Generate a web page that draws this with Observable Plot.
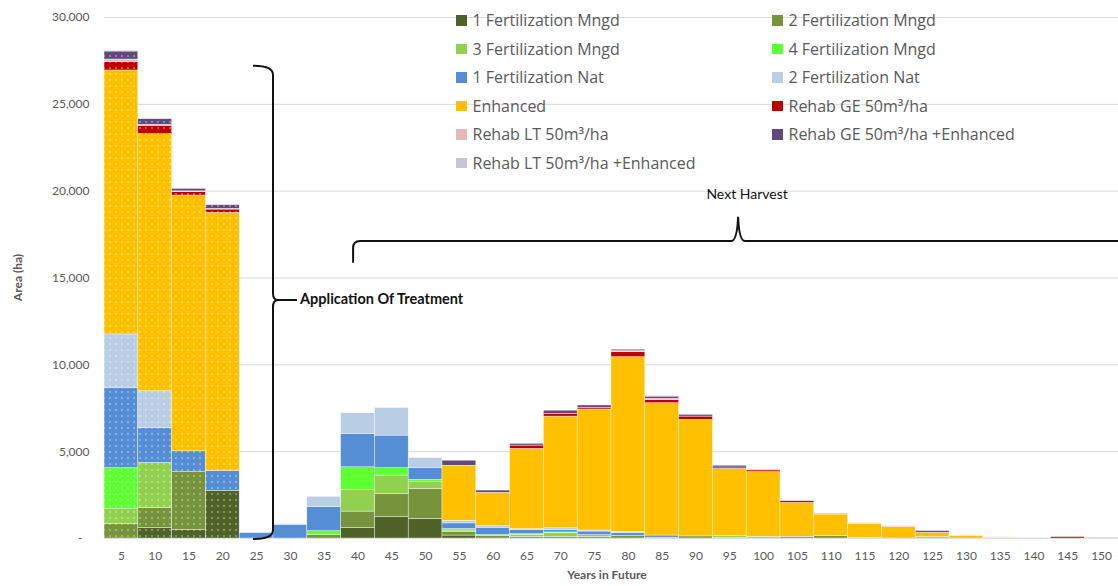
<!DOCTYPE html>
<html>
<head>
<meta charset="utf-8">
<script src="https://cdn.jsdelivr.net/npm/d3@7"></script>
<script src="https://cdn.jsdelivr.net/npm/@observablehq/plot@0.6"></script>
<style>
  html, body { margin: 0; padding: 0; background: #fff; }
  #wrap { position: relative; width: 1118px; height: 586px; overflow: hidden; font-family: Lato, "Open Sans", sans-serif; }
  #legend { position: absolute; left: 456px; top: 6px; display: grid; grid-template-columns: 316px 316px; grid-auto-rows: 28.5px; align-items: center; color: #595959; font-size: 16px; font-family: "Open Sans", Lato, sans-serif; }
  #legend .item { display: flex; align-items: center; white-space: nowrap; }
  #legend .sw { width: 10.5px; height: 10.5px; margin-right: 6px; flex: none; }
</style>
</head>
<body>
<svg width="0" height="0" style="position:absolute">
  <defs>
    <pattern id="dots" width="6" height="6" patternUnits="userSpaceOnUse">
      <circle cx="2" cy="2" r="0.75" fill="white" fill-opacity="0.75"></circle>
    </pattern>
  </defs>
</svg>
<div id="wrap">
  <div id="chart"></div>
  <div id="legend"></div>
</div>
<script>
// ---- data ----
const years = [5,10,15,20,25,30,35,40,45,50,55,60,65,70,75,80,85,90,95,100,105,110,115,120,125,130,135,140,145,150];

const seriesNames = [
  "1 Fertilization Mngd", "2 Fertilization Mngd", "3 Fertilization Mngd", "4 Fertilization Mngd",
  "1 Fertilization Nat", "2 Fertilization Nat", "Enhanced", "Rehab GE 50m³/ha",
  "Rehab LT 50m³/ha", "Rehab GE 50m³/ha +Enhanced", "Rehab LT 50m³/ha +Enhanced"
];
const seriesColors = ["#4F6228", "#77933C", "#92D050", "#5EFF33", "#558ED5", "#B9CDE5", "#FFC000", "#C00000", "#E6B9B8", "#604A7B", "#CCC1DA"];

const fert1Mngd = [0, 600, 480, 2750, 0, 0, 0, 610, 1230, 1130, 170, 0, 0, 0, 0, 0, 0, 0, 0, 0, 0, 0, 0, 0, 0, 0, 0, 0, 0, 0];
const fert2Mngd = [830, 1150, 3340, 0, 0, 0, 190, 940, 1340, 1730, 190, 150, 100, 100, 100, 150, 50, 120, 50, 0, 0, 150, 0, 0, 0, 0, 0, 0, 0, 0];
const fert3Mngd = [860, 2600, 0, 0, 0, 0, 0, 1250, 1055, 380, 100, 50, 100, 200, 100, 0, 0, 0, 80, 100, 0, 0, 0, 0, 80, 0, 0, 0, 0, 0];
const fert4Mngd = [2360, 0, 0, 0, 0, 0, 230, 1300, 420, 130, 80, 0, 50, 50, 0, 0, 0, 0, 0, 0, 0, 0, 0, 0, 0, 0, 0, 0, 0, 0];
const fert1Nat  = [4600, 2000, 1200, 1150, 310, 780, 1380, 1920, 1880, 690, 330, 420, 230, 130, 200, 150, 120, 0, 0, 0, 100, 0, 30, 0, 0, 0, 0, 0, 0, 0];
const fert2Nat  = [3100, 2130, 0, 0, 0, 50, 600, 1190, 1590, 575, 150, 100, 60, 120, 60, 80, 0, 0, 0, 0, 0, 0, 0, 0, 0, 0, 0, 0, 0, 0];
const enhanced  = [15200, 14800, 14730, 14850, 0, 0, 0, 0, 0, 0, 3170, 1910, 4620, 6420, 6970, 10060, 7620, 6710, 3880, 3720, 1950, 1230, 820, 650, 250, 150, 40, 0, 0, 0];
const rehabGE   = [480, 480, 190, 190, 0, 0, 0, 0, 0, 0, 0, 0, 190, 150, 100, 290, 190, 190, 80, 100, 100, 0, 0, 0, 80, 0, 0, 0, 100, 0];
const rehabLT   = [150, 60, 50, 40, 0, 0, 0, 0, 0, 0, 0, 0, 0, 0, 0, 60, 60, 0, 0, 60, 60, 60, 30, 60, 0, 20, 30, 40, 20, 0];
const rehabGEEnh = [460, 330, 140, 210, 0, 0, 0, 0, 0, 0, 290, 130, 100, 190, 130, 80, 130, 100, 100, 0, 0, 0, 0, 0, 40, 0, 0, 0, 0, 40];
const rehabLTEnh = [50, 40, 0, 0, 0, 0, 0, 0, 0, 0, 0, 0, 0, 0, 0, 0, 40, 0, 0, 0, 0, 0, 0, 0, 0, 0, 0, 0, 0, 20];

const seriesValues = [fert1Mngd, fert2Mngd, fert3Mngd, fert4Mngd, fert1Nat, fert2Nat, enhanced, rehabGE, rehabLT, rehabGEEnh, rehabLTEnh];
const yTicks = [0, 5000, 10000, 15000, 20000, 25000, 30000];
const treatedYears = [5, 10, 15, 20];

// ---- table ----
const table = seriesNames.flatMap((s, i) => years.map((yr, j) => ({year: String(yr), series: s, value: seriesValues[i][j]})));

const svg = Plot.plot({
  width: 1118,
  height: 586,
  marginLeft: 104,
  marginRight: 0,
  marginTop: 17,
  marginBottom: 48,
  style: {fontFamily: "Lato, 'Open Sans', sans-serif", color: "#595959", background: "white", overflow: "hidden"},
  x: {domain: years.map(String), padding: 0, round: false, label: null},
  y: {domain: [0, 30000], label: null},
  color: {domain: seriesNames, range: seriesColors},
  marks: [
    Plot.gridY(yTicks, {stroke: "#D9D9D9", strokeOpacity: 1, strokeWidth: 1}),
    Plot.barY(table, {x: "year", y: "value", fill: "series", stroke: "white", strokeWidth: 0.5, strokeOpacity: 0.8}),
    Plot.barY(table, {x: "year", y: "value", filter: d => treatedYears.includes(+d.year), fill: "url(#dots)"}),
    Plot.axisX({tickSize: 0, tickPadding: 13, fontSize: 12, label: null}),
    Plot.axisY(yTicks, {tickSize: 0, tickPadding: 15, fontSize: 12, label: null,
      tickFormat: d => d === 0 ? "-\u2007" : d3.format(",")(d)})
  ]
});

document.getElementById("chart").appendChild(svg);

// ---- axis titles and annotations ----
const xs = svg.scale("x"), ys = svg.scale("y");
const bw = xs.bandwidth;
const g = d3.select(svg).append("g");

g.append("text")
  .attr("transform", `translate(19,${(ys.apply(0) + ys.apply(30000)) / 2}) rotate(-90)`)
  .attr("text-anchor", "middle").attr("dominant-baseline", "middle")
  .attr("font-size", 12).attr("font-weight", "bold").attr("fill", "#595959")
  .text("Area (ha)");

g.append("text")
  .attr("x", 607).attr("y", 576)
  .attr("text-anchor", "middle").attr("dominant-baseline", "middle")
  .attr("font-size", 12).attr("font-weight", "bold").attr("fill", "#595959")
  .text("Years in Future");

// bracket: Application Of Treatment
{
  const xb = xs.apply("25") + bw;
  const yT = ys.apply(27200), yB = ys.apply(0) + 1, yM = ys.apply(13700);
  const p = `M${xb - 20},${yT} Q${xb},${yT} ${xb},${yT + 9} L${xb},${yM - 7} Q${xb},${yM} ${xb + 5},${yM} Q${xb},${yM} ${xb},${yM + 7} L${xb},${yB - 9} Q${xb},${yB} ${xb - 20},${yB} M${xb + 5},${yM} L${xb + 24},${yM}`;
  g.append("path").attr("d", p).attr("fill", "none").attr("stroke", "#111").attr("stroke-width", 2);
  g.append("text").attr("x", xb + 27).attr("y", yM)
    .attr("text-anchor", "start").attr("dominant-baseline", "middle")
    .attr("font-size", 14.5).attr("font-weight", "bold").attr("fill", "#111")
    .text("Application Of Treatment");
}

// bracket: Next Harvest
{
  const xl = xs.apply("40") + bw * 0.37;
  const xp = xs.apply("95") + bw * 0.76;
  const yL = ys.apply(17100), yBot = ys.apply(15850), yP = ys.apply(18500);
  const p = `M${xl},${yBot} L${xl},${yL + 7} Q${xl},${yL} ${xl + 7},${yL} L${xp - 7},${yL} Q${xp - 1},${yL} ${xp},${yP} Q${xp + 1},${yL} ${xp + 7},${yL} L1130,${yL}`;
  g.append("path").attr("d", p).attr("fill", "none").attr("stroke", "#111").attr("stroke-width", 2);
  g.append("text").attr("x", xp + 9).attr("y", ys.apply(19700))
    .attr("text-anchor", "middle").attr("dominant-baseline", "middle")
    .attr("font-size", 14).attr("fill", "#111")
    .text("Next Harvest");
}

// ---- legend ----
const legend = document.getElementById("legend");
seriesNames.forEach((s, i) => {
  const item = document.createElement("div");
  item.className = "item";
  const sw = document.createElement("span");
  sw.className = "sw";
  sw.style.background = seriesColors[i];
  const t = document.createElement("span");
  t.textContent = s;
  item.appendChild(sw);
  item.appendChild(t);
  legend.appendChild(item);
});
</script>
</body>
</html>
